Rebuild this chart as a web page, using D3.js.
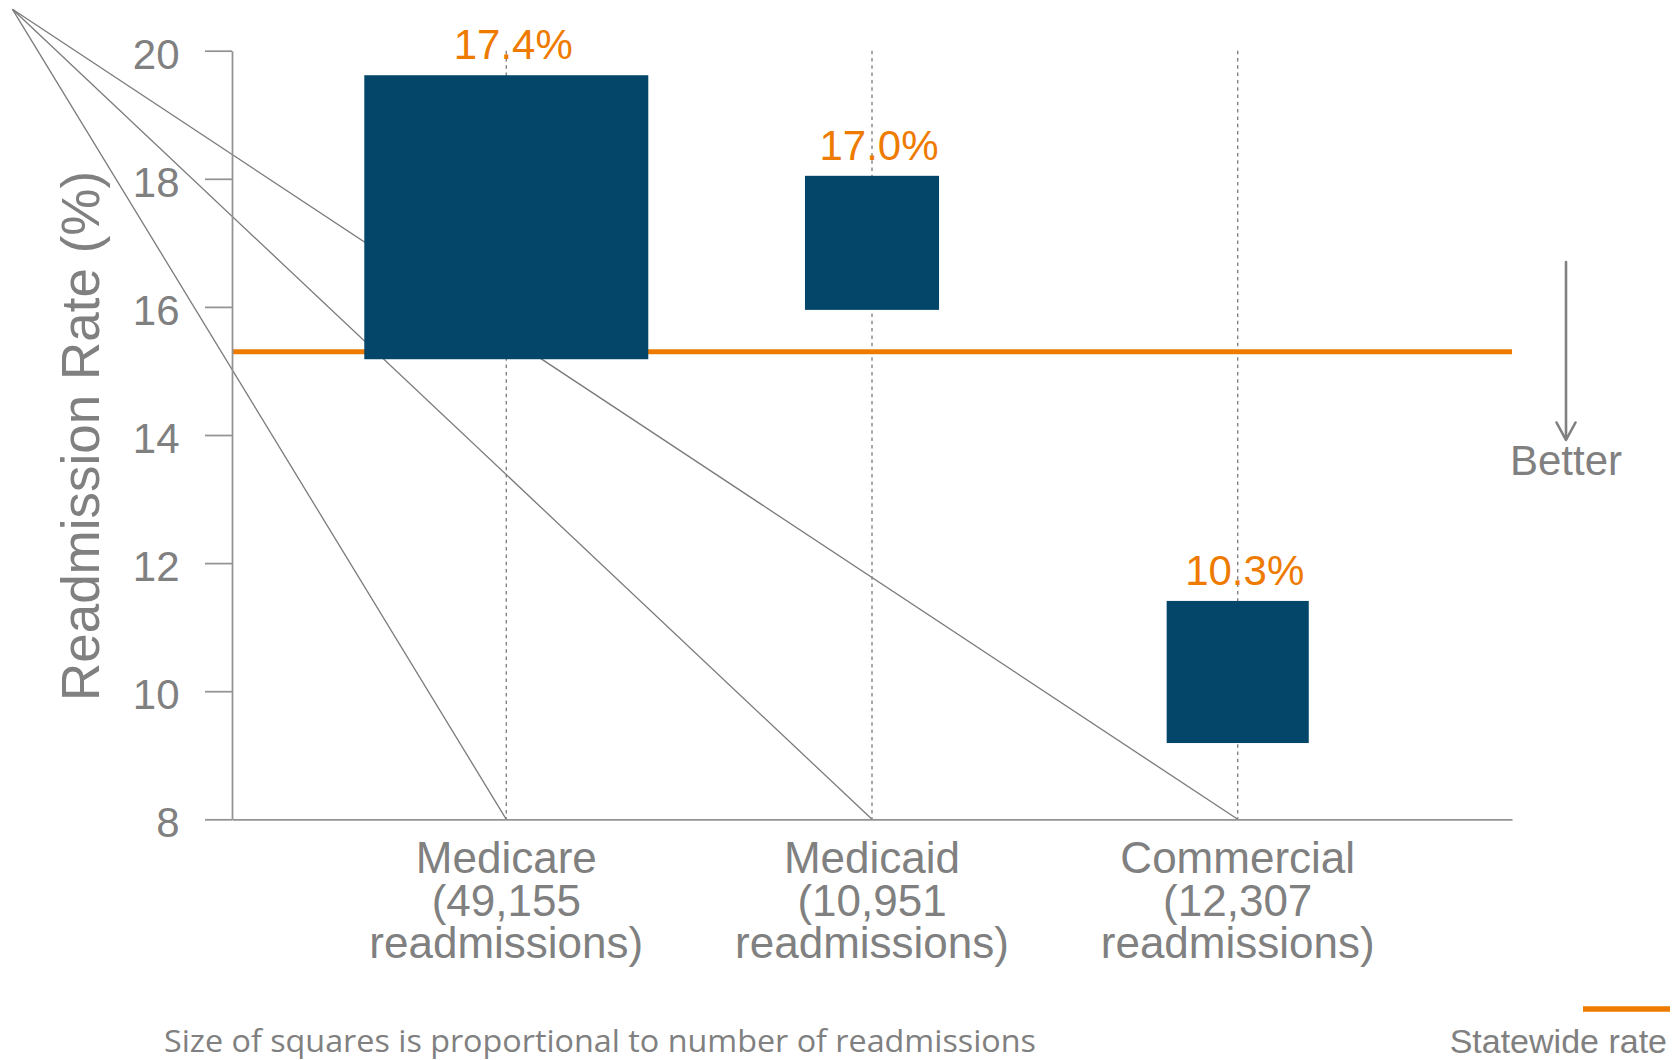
<!DOCTYPE html>
<html>
<head>
<meta charset="utf-8">
<script src="https://cdn.jsdelivr.net/npm/d3@7"></script>
<style>
  html, body { margin: 0; padding: 0; background: #ffffff; }
  svg { display: block; }
</style>
</head>
<body>
<svg id="chart" width="1678" height="1060"></svg>
<script>
// Payer groups, their readmission counts and rates
const categories = ["Medicare", "Medicaid", "Commercial"];
const readmissions = [49155, 10951, 12307];
const rates = [17.4, 17.0, 10.3];
const statewideRate = 15.3;
const yTicks = [8, 10, 12, 14, 16, 18, 20];

const W = 1678, H = 1060;
const plot = { left: 232, right: 1512, top: 50.7, bottom: 819.3 };

const GRAY_TEXT = "#808080";
const AXIS = "#939393";
const ORANGE = "#EE7B00";
const BLUE = "#03466A";
const FONT = "'Liberation Sans', Arial, sans-serif";

const svg = d3.select("#chart");

const y = d3.scaleLinear().domain([8, 20]).range([plot.bottom, plot.top]);
const x = d3.scalePoint().domain(categories).range([plot.left, plot.right]).padding(0.75);
// square side grows with the square root of the count, so area tracks readmissions
const side = d3.scaleSqrt().domain([0, d3.max(readmissions)]).range([0, 284]);

const rows = categories.map((c, i) => ({ cat: c, n: readmissions[i], rate: rates[i] }));

// dotted guides at each payer
svg.append("g").selectAll("line").data(rows).join("line")
  .attr("x1", d => x(d.cat)).attr("x2", d => x(d.cat))
  .attr("y1", y(20)).attr("y2", y(8))
  .attr("stroke", "#7a7a7a").attr("stroke-width", 1.3)
  .attr("stroke-dasharray", "3.5,3.8");

// statewide rate reference
svg.append("line")
  .attr("x1", plot.left).attr("x2", plot.right)
  .attr("y1", y(statewideRate)).attr("y2", y(statewideRate))
  .attr("stroke", ORANGE).attr("stroke-width", 5);

// leader lines fanning out from the upper-left corner to each payer on the baseline
const leaderOrigin = [plot.left - 219.5, plot.top - 41.4];
svg.append("g").selectAll("line").data(rows).join("line")
  .attr("x1", leaderOrigin[0]).attr("y1", leaderOrigin[1])
  .attr("x2", d => x(d.cat)).attr("y2", y(8))
  .attr("stroke", "#7a7a7a").attr("stroke-width", 1.3);

// y axis
const yAxis = d3.axisLeft(y).tickValues(yTicks).tickSizeInner(27).tickSizeOuter(0).tickPadding(25.5);
const gy = svg.append("g").attr("transform", `translate(${plot.left},0)`).call(yAxis);
gy.selectAll("path, line").attr("stroke", AXIS).attr("stroke-width", 1.75);
gy.selectAll("text")
  .attr("fill", GRAY_TEXT).attr("font-family", FONT).attr("font-size", 42)
  .attr("dy", "0.42em");

// x axis baseline
const xAxis = d3.axisBottom(x).tickSize(0).tickFormat("");
const gx = svg.append("g").attr("transform", `translate(0,${y(8)})`).call(xAxis);
gx.select("path").attr("stroke", AXIS).attr("stroke-width", 1.75);
gx.selectAll(".tick").remove();

// squares centred on each rate
svg.append("g").selectAll("rect").data(rows).join("rect")
  .attr("x", d => x(d.cat) - side(d.n) / 2)
  .attr("y", d => y(d.rate) - side(d.n) / 2)
  .attr("width", d => side(d.n))
  .attr("height", d => side(d.n))
  .attr("fill", BLUE);

// rate labels above squares
svg.append("g").selectAll("text").data(rows).join("text")
  .attr("x", d => x(d.cat) + 7)
  .attr("y", d => y(d.rate) - side(d.n) / 2 - 16)
  .attr("text-anchor", "middle")
  .attr("fill", ORANGE).attr("font-family", FONT).attr("font-size", 42)
  .text(d => d3.format(".1f")(d.rate) + "%");

// category labels under the axis
const fmt = d3.format(",");
const catText = svg.append("g").selectAll("text").data(rows).join("text")
  .attr("text-anchor", "middle")
  .attr("fill", GRAY_TEXT).attr("font-family", FONT).attr("font-size", 44);
catText.each(function (d) {
  const t = d3.select(this);
  const lines = [d.cat, "(" + fmt(d.n), "readmissions)"];
  lines.forEach((s, i) => {
    t.append("tspan").attr("x", x(d.cat)).attr("y", y(8) + 54 + i * 42.2).text(s);
  });
});

// y axis title
svg.append("text")
  .attr("transform", `translate(99,436) rotate(-90)`)
  .attr("text-anchor", "middle")
  .attr("fill", GRAY_TEXT).attr("font-family", FONT).attr("font-size", 53)
  .text("Readmission Rate (%)");

// "Better" direction arrow
const arrowX = 1566;
svg.append("line")
  .attr("x1", arrowX).attr("x2", arrowX).attr("y1", 262).attr("y2", 439)
  .attr("stroke", "#808080").attr("stroke-width", 2.6).attr("stroke-linecap", "round");
svg.append("path")
  .attr("d", `M${arrowX - 9.5},${422.5} L${arrowX},${440} L${arrowX + 9.5},${422.5}`)
  .attr("fill", "none").attr("stroke", "#808080").attr("stroke-width", 2.6)
  .attr("stroke-linecap", "round").attr("stroke-linejoin", "round");
svg.append("text")
  .attr("x", arrowX).attr("y", 475)
  .attr("text-anchor", "middle")
  .attr("fill", GRAY_TEXT).attr("font-family", FONT).attr("font-size", 42)
  .text("Better");

// legend for the statewide line
svg.append("line")
  .attr("x1", 1583).attr("x2", 1670).attr("y1", 1009).attr("y2", 1009)
  .attr("stroke", ORANGE).attr("stroke-width", 5.5);
svg.append("text")
  .attr("x", 1667).attr("y", 1053)
  .attr("text-anchor", "end")
  .attr("fill", GRAY_TEXT).attr("font-family", FONT).attr("font-size", 34)
  .text("Statewide rate");

// footnote
svg.append("text")
  .attr("x", 164).attr("y", 1052)
  .attr("fill", GRAY_TEXT).attr("font-family", "'Open Sans', 'Noto Sans', sans-serif").attr("font-size", 31)
  .attr("textLength", 872).attr("lengthAdjust", "spacingAndGlyphs")
  .text("Size of squares is proportional to number of readmissions");
</script>
</body>
</html>
